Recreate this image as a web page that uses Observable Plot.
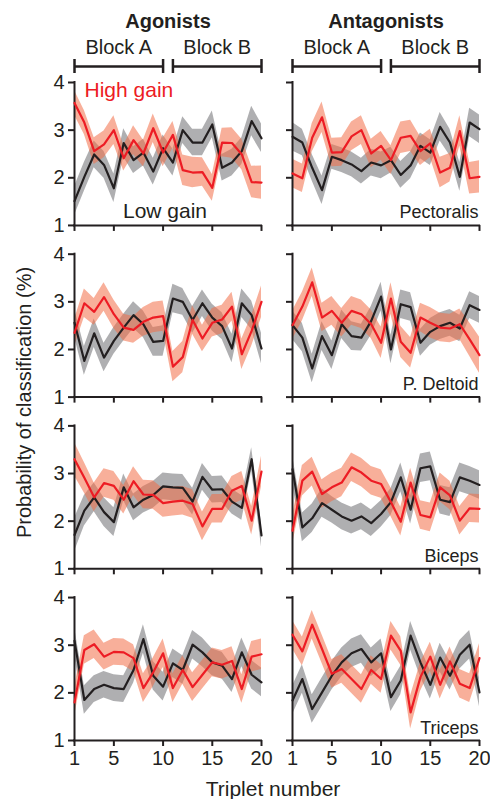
<!DOCTYPE html>
<html>
<head>
<meta charset="utf-8">
<script src="https://cdn.jsdelivr.net/npm/d3@7"></script>
<script src="https://cdn.jsdelivr.net/npm/@observablehq/plot@0.6"></script>
<style>
  body { margin: 0; background: #fff; }
  #chart svg { display: block; }
</style>
</head>
<body>
<div id="chart"></div>
<script>
// ---- categories / ticks ----
const groups = ["Agonists", "Antagonists"];
const muscles = ["Pectoralis", "P. Deltoid", "Biceps", "Triceps"];
const triplets = [1,2,3,4,5,6,7,8,9,10,11,12,13,14,15,16,17,18,19,20];
const xTicks = [1, 5, 10, 15, 20];
const yTicks = [1, 2, 3, 4];
const blocks = [
  {name: "Block A", start: 1, end: 10},
  {name: "Block B", start: 11, end: 20}
];

// ---- series values (mean) and band half-widths ----
const agoPecHigh = [3.57,3.16,2.56,2.70,3.00,2.41,2.79,2.51,3.04,2.53,2.90,2.16,2.11,2.12,1.79,2.74,2.73,2.49,1.91,1.90];
const agoPecHighSem = [0.26,0.25,0.28,0.28,0.30,0.27,0.30,0.28,0.30,0.30,0.28,0.32,0.32,0.30,0.28,0.30,0.32,0.32,0.33,0.35];
const agoPecLow = [1.51,2.02,2.49,2.27,1.78,2.73,2.37,2.53,2.13,2.62,2.32,3.00,2.74,2.74,3.12,2.21,2.32,2.56,3.19,2.83];
const agoPecLowSem = [0.30,0.30,0.28,0.28,0.30,0.30,0.28,0.28,0.28,0.28,0.28,0.28,0.28,0.28,0.28,0.28,0.28,0.28,0.31,0.30];

const antPecHigh = [2.09,1.99,2.84,3.27,2.53,2.54,2.87,3.00,2.51,2.67,2.37,2.84,2.88,2.56,2.72,2.11,2.21,2.98,1.99,2.02];
const antPecHighSem = [0.30,0.30,0.30,0.32,0.30,0.30,0.30,0.30,0.30,0.30,0.30,0.33,0.33,0.30,0.30,0.32,0.30,0.32,0.33,0.34];
const antPecLow = [2.86,2.74,2.21,1.74,2.44,2.37,2.28,2.14,2.32,2.26,2.37,2.06,2.26,2.67,2.53,3.07,2.74,2.02,3.16,3.02];
const antPecLowSem = [0.30,0.28,0.28,0.30,0.26,0.26,0.26,0.27,0.28,0.28,0.27,0.28,0.28,0.27,0.27,0.30,0.28,0.30,0.30,0.30];

const agoDelHigh = [2.35,2.97,2.79,3.10,2.74,2.46,2.41,2.58,2.67,2.70,1.64,1.84,2.62,2.23,2.56,2.63,2.90,1.90,2.39,3.00];
const agoDelHighSem = [0.28,0.30,0.28,0.30,0.30,0.28,0.28,0.30,0.32,0.32,0.32,0.33,0.30,0.28,0.30,0.30,0.30,0.32,0.32,0.33];
const agoDelLow = [2.56,1.76,2.34,1.83,2.18,2.46,2.72,2.53,2.16,2.18,3.07,3.00,2.62,2.97,2.67,2.49,2.02,2.97,2.72,2.02];
const agoDelLowSem = [0.30,0.30,0.30,0.30,0.28,0.28,0.28,0.28,0.30,0.32,0.30,0.28,0.28,0.28,0.28,0.28,0.30,0.30,0.30,0.32];

const antDelHigh = [2.51,2.90,3.41,2.67,2.81,2.56,2.81,2.74,2.53,2.14,3.07,2.16,1.93,2.67,2.56,2.46,2.44,2.53,2.21,1.88];
const antDelHighSem = [0.30,0.30,0.30,0.30,0.30,0.30,0.30,0.30,0.30,0.33,0.33,0.33,0.32,0.30,0.32,0.30,0.30,0.32,0.35,0.38];
const antDelLow = [2.51,2.25,1.60,2.28,1.88,2.53,2.28,2.25,2.60,3.11,2.00,2.95,2.89,2.14,2.37,2.49,2.56,2.44,2.93,2.83];
const antDelLowSem = [0.30,0.30,0.30,0.30,0.30,0.30,0.30,0.28,0.30,0.30,0.30,0.30,0.30,0.28,0.28,0.28,0.28,0.28,0.28,0.28];

const agoBicHigh = [3.30,2.91,2.50,2.80,2.74,2.45,2.84,2.56,2.55,2.38,2.41,2.43,2.36,1.89,2.26,2.26,2.64,2.74,2.01,3.04];
const agoBicHighSem = [0.35,0.32,0.30,0.30,0.30,0.30,0.30,0.30,0.30,0.30,0.30,0.30,0.30,0.30,0.30,0.30,0.30,0.30,0.30,0.32];
const agoBicLow = [1.71,2.22,2.50,2.19,1.98,2.71,2.29,2.45,2.55,2.73,2.71,2.70,2.41,2.93,2.66,2.67,2.41,2.28,3.30,1.70];
const agoBicLowSem = [0.35,0.32,0.30,0.30,0.30,0.28,0.28,0.28,0.28,0.28,0.28,0.28,0.28,0.28,0.28,0.28,0.26,0.26,0.24,0.24];

const antBicHigh = [1.80,2.85,3.04,2.57,2.71,2.81,3.13,3.02,2.85,2.78,2.40,1.99,2.81,2.13,2.08,2.71,2.54,2.01,2.27,2.26];
const antBicHighSem = [0.30,0.32,0.30,0.30,0.30,0.30,0.30,0.30,0.30,0.30,0.30,0.30,0.30,0.30,0.30,0.30,0.30,0.30,0.30,0.30];
const antBicLow = [3.09,1.87,2.06,2.38,2.24,2.10,2.01,2.10,1.96,2.15,2.40,2.92,2.24,3.11,3.15,2.45,2.40,2.92,2.85,2.76];
const antBicLowSem = [0.30,0.30,0.30,0.30,0.28,0.28,0.28,0.28,0.28,0.28,0.28,0.30,0.30,0.30,0.30,0.30,0.30,0.30,0.30,0.30];

const agoTriHigh = [1.80,2.90,3.02,2.76,2.86,2.85,2.73,2.10,2.43,2.83,2.10,2.48,2.12,2.38,2.64,2.59,2.67,2.08,2.76,2.81];
const agoTriHighSem = [0.30,0.30,0.30,0.28,0.28,0.28,0.28,0.30,0.30,0.30,0.30,0.30,0.30,0.30,0.30,0.30,0.30,0.30,0.32,0.32];
const agoTriLow = [3.09,1.85,2.08,2.17,2.10,2.08,2.48,3.13,2.36,2.13,2.62,2.48,3.01,2.85,2.64,2.57,2.29,2.85,2.38,2.22];
const agoTriLowSem = [0.30,0.30,0.28,0.28,0.28,0.28,0.28,0.30,0.30,0.30,0.30,0.30,0.30,0.30,0.28,0.28,0.28,0.30,0.30,0.30];

const antTriHigh = [3.22,2.87,3.43,2.92,2.40,2.50,2.29,2.08,2.48,2.29,3.20,2.88,1.59,2.33,2.76,2.17,2.66,2.19,2.10,2.73];
const antTriHighSem = [0.30,0.30,0.30,0.30,0.30,0.30,0.30,0.30,0.30,0.30,0.30,0.30,0.35,0.30,0.30,0.30,0.30,0.30,0.30,0.30];
const antTriLow = [1.84,2.29,1.66,2.01,2.36,2.64,2.83,2.92,2.64,2.83,1.91,2.26,3.20,2.64,2.17,2.74,2.36,2.80,3.01,2.01];
const antTriLowSem = [0.30,0.30,0.30,0.30,0.30,0.30,0.30,0.30,0.30,0.30,0.30,0.30,0.30,0.30,0.30,0.30,0.30,0.30,0.30,0.30];

// ---- tables for the library ----
const panels = [
  {group: "Agonists", muscle: "Pectoralis", high: agoPecHigh, highSem: agoPecHighSem, low: agoPecLow, lowSem: agoPecLowSem},
  {group: "Antagonists", muscle: "Pectoralis", high: antPecHigh, highSem: antPecHighSem, low: antPecLow, lowSem: antPecLowSem},
  {group: "Agonists", muscle: "P. Deltoid", high: agoDelHigh, highSem: agoDelHighSem, low: agoDelLow, lowSem: agoDelLowSem},
  {group: "Antagonists", muscle: "P. Deltoid", high: antDelHigh, highSem: antDelHighSem, low: antDelLow, lowSem: antDelLowSem},
  {group: "Agonists", muscle: "Biceps", high: agoBicHigh, highSem: agoBicHighSem, low: agoBicLow, lowSem: agoBicLowSem},
  {group: "Antagonists", muscle: "Biceps", high: antBicHigh, highSem: antBicHighSem, low: antBicLow, lowSem: antBicLowSem},
  {group: "Agonists", muscle: "Triceps", high: agoTriHigh, highSem: agoTriHighSem, low: agoTriLow, lowSem: agoTriLowSem},
  {group: "Antagonists", muscle: "Triceps", high: antTriHigh, highSem: antTriHighSem, low: antTriLow, lowSem: antTriLowSem}
];
const rows = panels.flatMap(p => triplets.flatMap((t, i) => [
  {group: p.group, muscle: p.muscle, t, gain: "High gain", mean: p.high[i], sem: p.highSem[i]},
  {group: p.group, muscle: p.muscle, t, gain: "Low gain", mean: p.low[i], sem: p.lowSem[i]}
]));
const highRows = rows.filter(d => d.gain === "High gain");
const lowRows = rows.filter(d => d.gain === "Low gain");
const blockRows = groups.flatMap(g => blocks.map(b => ({group: g, ...b})));
const capRows = blockRows.flatMap(b => [{group: b.group, x: b.start}, {group: b.group, x: b.end}]);

const ink = "#231f20";
const red = "#ed1c24";
const font = "'Liberation Sans', Arial, Helvetica, sans-serif";

const chart = Plot.plot({
  width: 490,
  height: 799,
  marginLeft: 74,
  marginRight: 11,
  marginTop: 82,
  marginBottom: 59,
  style: {fontFamily: font, fontSize: "20px", color: ink, background: "#fff", overflow: "visible"},
  x: {domain: [1, 20], axis: null},
  y: {domain: [1, 4], axis: null},
  fx: {domain: groups, paddingInner: 0.1422, paddingOuter: 0, round: false, axis: null},
  fy: {domain: muscles, paddingInner: 0.1675, paddingOuter: 0, round: false, axis: null},
  marks: [
    // bands
    Plot.areaY(lowRows, {x: "t", y1: d => d.mean - d.sem, y2: d => d.mean + d.sem, fx: "group", fy: "muscle", fill: "#6d6e71", fillOpacity: 0.55}),
    Plot.areaY(highRows, {x: "t", y1: d => d.mean - d.sem, y2: d => d.mean + d.sem, fx: "group", fy: "muscle", fill: "#f26d47", fillOpacity: 0.55}),
    // axes: tick marks in every panel, labels on outer panels only
    Plot.axisX({ticks: xTicks, tickSize: 6, strokeWidth: 2, stroke: ink, text: null, label: null, facetAnchor: null}),
    Plot.axisX({ticks: xTicks, tickSize: 0, tickPadding: 10, tickFormat: d => String(d), fontSize: 20, fill: ink, label: null}),
    Plot.axisY({ticks: yTicks, tickSize: 6, strokeWidth: 2, stroke: ink, text: null, label: null, facetAnchor: null}),
    Plot.axisY({ticks: yTicks, tickSize: 0, tickPadding: 10, tickFormat: d => String(d), fontSize: 20, fill: ink, label: null}),
    Plot.ruleX([1], {stroke: ink, strokeWidth: 2, strokeLinecap: "square"}),
    Plot.ruleY([1], {stroke: ink, strokeWidth: 2, strokeLinecap: "square"}),
    // lines
    Plot.lineY(lowRows, {x: "t", y: "mean", fx: "group", fy: "muscle", stroke: ink, strokeWidth: 2.2}),
    Plot.lineY(highRows, {x: "t", y: "mean", fx: "group", fy: "muscle", stroke: red, strokeWidth: 2.2}),
    // legend labels
    Plot.text(["High gain"], {text: d => d, fx: () => groups[0], fy: () => muscles[0], frameAnchor: "top-left", textAnchor: "start", lineAnchor: "top", dx: 10, dy: 0, fill: red, fontSize: 21}),
    Plot.text(["Low gain"], {text: d => d, fx: () => groups[0], fy: () => muscles[0], frameAnchor: "bottom", textAnchor: "middle", lineAnchor: "bottom", dx: -3, dy: -7, fill: ink, fontSize: 21}),
    // muscle labels
    Plot.text(muscles, {text: d => d, fy: d => d, fx: () => groups[1], frameAnchor: "bottom-right", textAnchor: "end", lineAnchor: "bottom", dx: -1, dy: -7, fill: ink, fontSize: 18}),
    // column headers
    Plot.text(groups, {text: d => d, fx: d => d, fy: () => muscles[0], frameAnchor: "top", lineAnchor: "bottom", dy: -55, fontWeight: "bold", fill: ink, fontSize: 20}),
    Plot.text(blockRows, {x: d => (d.start + d.end) / 2, text: "name", fx: "group", fy: () => muscles[0], frameAnchor: "top", lineAnchor: "bottom", dy: -29, fill: ink, fontSize: 20}),
    Plot.ruleY(blockRows, {x1: "start", x2: "end", y: () => 4, fx: "group", fy: () => muscles[0], dy: -16, stroke: ink, strokeWidth: 2.5}),
    Plot.ruleX(capRows, {x: "x", y1: () => 4, y2: () => 4, fx: "group", fy: () => muscles[0], dy: -16, insetTop: -7, insetBottom: -7, stroke: ink, strokeWidth: 2.5}),
    // shared axis titles
    Plot.text(["Triplet number"], {text: d => d, facet: "super", frameAnchor: "bottom", lineAnchor: "bottom", dx: -4, dy: 55, fill: ink, fontSize: 21}),
    Plot.text(["Probability of classification (%)"], {text: d => d, facet: "super", frameAnchor: "left", rotate: -90, textAnchor: "middle", lineAnchor: "bottom", dx: -44, dy: -9, fill: ink, fontSize: 20})
  ]
});
document.getElementById("chart").append(chart);
</script>
</body>
</html>
